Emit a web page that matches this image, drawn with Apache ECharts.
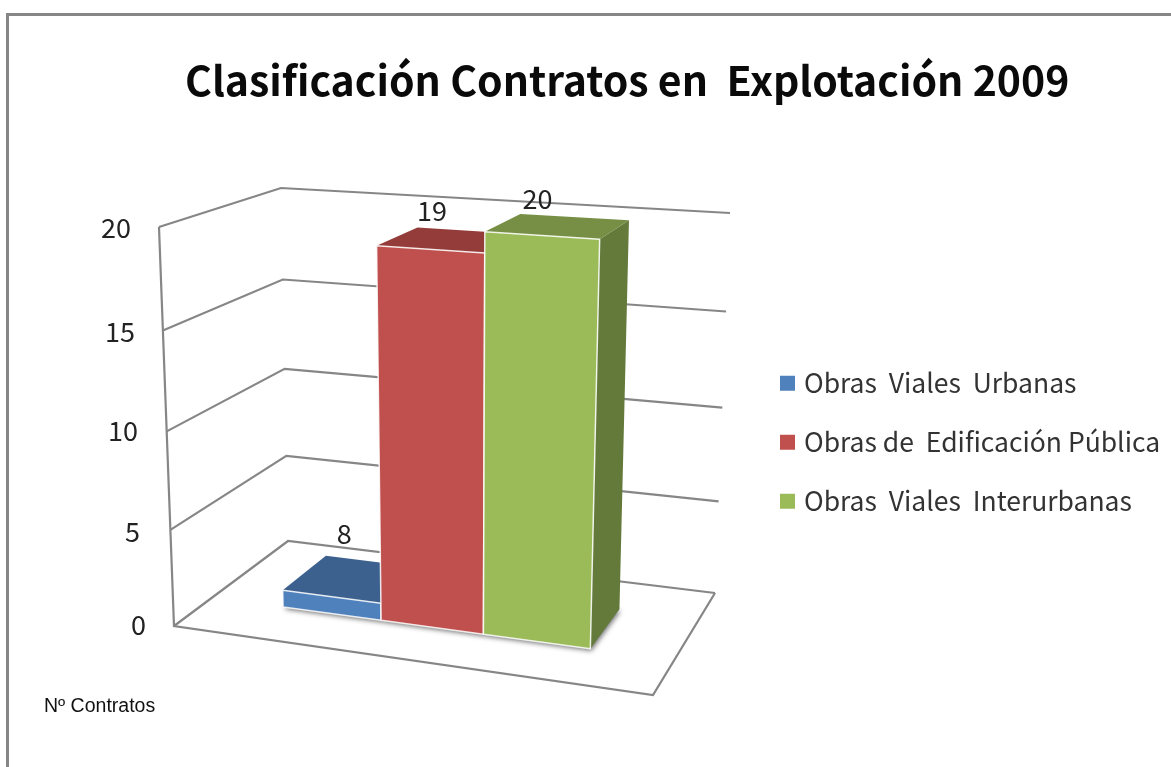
<!DOCTYPE html>
<html><head><meta charset="utf-8">
<style>html,body{margin:0;padding:0;background:#fff}#c{width:1171px;height:767px}</style>
<script src="https://cdn.jsdelivr.net/npm/echarts@6/dist/echarts.min.js"></script>
</head><body><div id="c"></div>
<script>
// ---- data ----
const seriesNames = ['Obras  Viales  Urbanas', 'Obras de  Edificación Pública', 'Obras  Viales  Interurbanas'];
const drawnHeights = [0.9, 19, 20];   // height the bars have in the picture
const valueLabels = ['8', '19', '20']; // numbers printed above them
const tickValues = [0, 5, 10, 15, 20];

// ---- style ----
const uiFont = '"Noto Sans CJK SC","Open Sans",sans-serif';
const faceColors = [
  {front:'#4f81bd', top:'#3c618f', side:'#33557f'},
  {front:'#c0504d', top:'#943c3a', side:'#7f3230'},
  {front:'#9bbb59', top:'#778f45', side:'#647a3a'}
];
const labelNudge = [[13,-63],[2,-38],[-4,-37]];
const tickPad = {0:[0,0,2,0], 5:[10,6,0,0], 10:[9,8,0,0], 15:[10,11,0,0], 20:[2,15,0,0]};
const lineColor = '#868686';

// projection of the 3-D box: floor and ceiling quads (front-left, front-right, back-right, back-left)
function homography(p0,p1,p2,p3){
  const sx=p0[0]-p1[0]+p2[0]-p3[0], sy=p0[1]-p1[1]+p2[1]-p3[1];
  const dx1=p1[0]-p2[0], dy1=p1[1]-p2[1], dx2=p3[0]-p2[0], dy2=p3[1]-p2[1];
  const det=dx1*dy2-dx2*dy1;
  const g=(sx*dy2-dx2*sy)/det, h=(dx1*sy-sx*dy1)/det;
  const ax=p1[0]-p0[0]+g*p1[0], bx=p3[0]-p0[0]+h*p3[0];
  const ay=p1[1]-p0[1]+g*p1[1], by=p3[1]-p0[1]+h*p3[1];
  return (u,d)=>{const w=g*u+h*d+1;return [(ax*u+bx*d+p0[0])/w,(ay*u+by*d+p0[1])/w];};
}
const floorQ = homography([174,626],[653,695],[715,593],[288,541]);
const ceilQ  = homography([159,227],[670,262],[730,213],[281,188]);
const perspK = 0.05;
const barStart = 0.166, barWidth = 0.2222, barFrontD = 0.31, barBackD = 0.716;

function projector(api){
  const y0 = api.coord([0,0])[1], yMax = api.coord([0,20])[1];
  return (u,d,v)=>{
    const t=(y0-api.coord([0,v])[1])/(y0-yMax);
    const s=t/(1+perspK*(1-t));
    const a=floorQ(u,d), b=ceilQ(u,d);
    return [a[0]+(b[0]-a[0])*s, a[1]+(b[1]-a[1])*s];
  };
}

function renderBox(params, api){
  const P = projector(api);
  const kids=[];
  const line=(pts)=>kids.push({type:'polyline',shape:{points:pts},style:{stroke:lineColor,lineWidth:2.2,fill:null}});
  tickValues.forEach(v=>line([P(0,0,v),P(0,1,v),P(1,1,v)]));
  line([P(0,0,20),P(0,0,0),P(1,0,0),P(1,1,0)]);
  return {type:'group',children:kids};
}

function renderBar(params, api){
  const P = projector(api);
  const i = api.value(0), v = api.value(1);
  const c = faceColors[i];
  const u0=barStart+i*barWidth, u1=u0+barWidth, f=barFrontD, b=barBackD;
  const edge={stroke:'rgba(255,255,255,0.85)',lineWidth:1.5,lineJoin:'round'};
  const poly=(pts,fill,st)=>({type:'polygon',shape:{points:pts},style:Object.assign({fill:fill},st||{})});
  const labelAt=P((u0+u1)/2,f,v);
  return {type:'group',children:[
    poly([P(u0,f,0),P(u1,f,0),P(u1,b,0),P(u0,b,0)],'#8c8c8c',{shadowBlur:5,shadowColor:'rgba(0,0,0,0.55)',shadowOffsetX:1,shadowOffsetY:2}),
    poly([P(u1,f,0),P(u1,b,0),P(u1,b,v),P(u1,f,v)],c.side),
    poly([P(u0,f,v),P(u1,f,v),P(u1,b,v),P(u0,b,v)],c.top),
    poly([P(u0,f,0),P(u1,f,0),P(u1,f,v),P(u0,f,v)],c.front,edge),
    {type:'text',style:{text:valueLabels[i],x:labelAt[0]+labelNudge[i][0],y:labelAt[1]+labelNudge[i][1],
      fill:'#222',font:'27px '+uiFont,align:'center',verticalAlign:'middle'}}
  ]};
}

const series=[{type:'custom',name:'box',coordinateSystem:'cartesian2d',silent:true,clip:false,data:[[0,0]],renderItem:renderBox,z:1}];
seriesNames.forEach((n,i)=>series.push({
  type:'custom',name:n,coordinateSystem:'cartesian2d',clip:false,silent:true,z:2,
  itemStyle:{color:faceColors[i].front},
  encode:{x:0,y:1},data:[[i,drawnHeights[i]]],renderItem:renderBar
}));

const rich={};
tickValues.forEach(v=>{rich['t'+v]={fontSize:27,fontFamily:uiFont,color:'#222',padding:tickPad[v]};});

const chart=echarts.init(document.getElementById('c'),null,{renderer:'canvas'});
chart.setOption({
  animation:false,
  backgroundColor:'#fff',
  title:[
    {text:'Clasificación Contratos en  Explotación 2009',left:180,top:55,
     textStyle:{fontFamily:uiFont,fontWeight:'bold',fontSize:41,color:'#0a0a0a'}},
    {text:'Nº Contratos',left:39,top:692,
     textStyle:{fontFamily:'"Liberation Sans",Arial,sans-serif',fontWeight:'normal',fontSize:19.5,color:'#111'}}
  ],
  grid:{left:174,top:227,width:480,height:399},
  xAxis:{type:'category',data:seriesNames,show:false},
  yAxis:{type:'value',min:0,max:20,interval:5,splitLine:{show:false},axisLine:{show:false},axisTick:{show:false},
    axisLabel:{margin:28,formatter:v=>'{t'+v+'|'+v+'}',rich:rich}},
  legend:{data:seriesNames,orient:'vertical',left:775,top:365,icon:'rect',itemWidth:15,itemHeight:15,itemGap:32.5,
    selectedMode:false,textStyle:{fontFamily:uiFont,fontSize:26.5,color:'#333',padding:[0,0,0,4]}},
  graphic:[{type:'polyline',z:100,shape:{points:[[7.5,767],[7.5,14.5],[1171,14.5]]},style:{stroke:'#868686',lineWidth:3,fill:null}}],
  series:series
});
</script></body></html>
